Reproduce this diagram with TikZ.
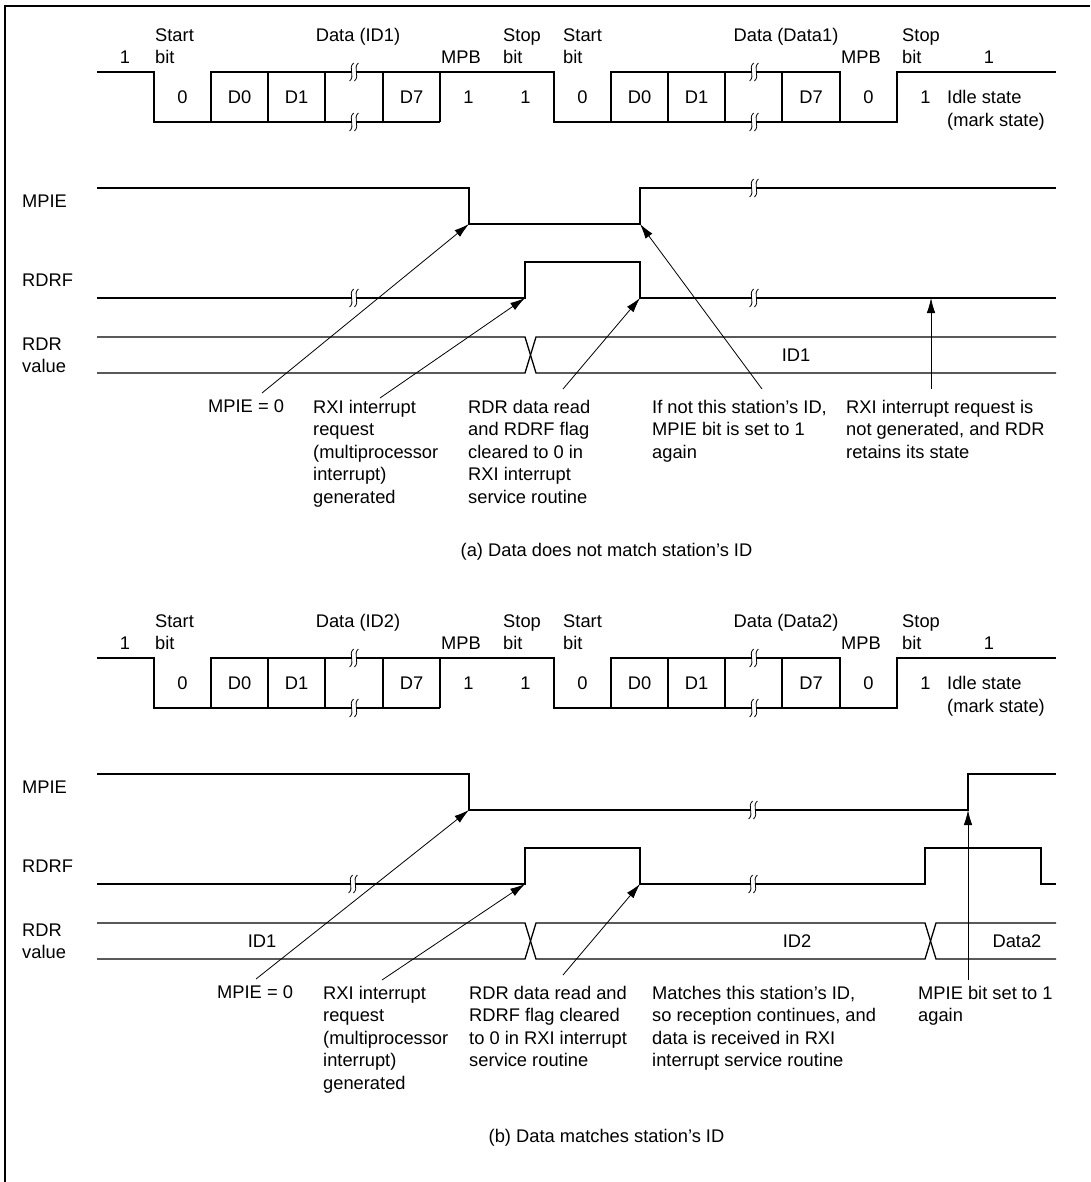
\documentclass[tikz,border=0pt]{standalone}
\usepackage{fontspec}
\setmainfont{Liberation Sans}
\usetikzlibrary{arrows.meta}
\tikzset{
  sig/.style={line width=1.3pt, line join=miter},
  arr/.style={line width=0.8pt, -{Latex[length=15pt,width=8.5pt]}},
  lbl/.style={inner sep=0pt, font=\fontsize{18.3}{22.5}\selectfont},
  blk/.style={lbl, align=left, anchor=north west},
  brk/.pic={
    \fill[white] (-2.4,-2.5) rectangle (2.4,2.5);
    \draw[line width=0.8pt] (-0.4,-9) .. controls (-6.4,-4) and (1.6,4) .. (-4.4,9);
    \draw[line width=0.8pt] (4.4,-9) .. controls (-1.6,-4) and (6.4,4) .. (0.4,9);
  }
}
\newcommand\TopWave[4]{%
\begin{scope}[yshift=-#2pt, name prefix=#1-]
  \draw[sig] (97,72) -- (154,72) -- (154,122) -- (440,122);
  \draw[sig] (211,122) -- (211,72) -- (554,72) -- (554,122) -- (897,122) -- (897,72) -- (1056,72);
  \draw[sig] (268,72) -- (268,122) (325,72) -- (325,122) (383,72) -- (383,122) (440,72) -- (440,122);
  \draw[sig] (611,122) -- (611,72) -- (840,72) -- (840,122);
  \draw[sig] (668,72) -- (668,122) (725,72) -- (725,122) (782,72) -- (782,122);
  \pic at (354,72) {brk}; \pic at (354,122) {brk};
  \pic at (754,72) {brk}; \pic at (754,122) {brk};
  % labels above
  \node[lbl, anchor=base] (idle1) at (125,63.5) {1};
  \node[lbl, anchor=base west] (start1) at (155,41.5) {Start};
  \node[lbl, anchor=base west] (start1b) at (155,63.5) {bit};
  \node[lbl, anchor=base] (data1) at (358,41.5) {#3};
  \node[lbl, anchor=base west] (mpb1) at (441,63.5) {MPB};
  \node[lbl, anchor=base west] (stop1) at (503,41.5) {Stop};
  \node[lbl, anchor=base west] (stop1b) at (503,63.5) {bit};
  \node[lbl, anchor=base west] (start2) at (563,41.5) {Start};
  \node[lbl, anchor=base west] (start2b) at (563,63.5) {bit};
  \node[lbl, anchor=base] (data2) at (786,41.5) {#4};
  \node[lbl, anchor=base west] (mpb2) at (841,63.5) {MPB};
  \node[lbl, anchor=base west] (stop2) at (902,41.5) {Stop};
  \node[lbl, anchor=base west] (stop2b) at (902,63.5) {bit};
  \node[lbl, anchor=base] (idle2) at (989,63.5) {1};
  % bit values
  \node[lbl, anchor=base] (v1) at (182.5,103.5) {0};
  \node[lbl, anchor=base] (v2) at (239.5,103.5) {D0};
  \node[lbl, anchor=base] (v3) at (296.5,103.5) {D1};
  \node[lbl, anchor=base] (v4) at (411.5,103.5) {D7};
  \node[lbl, anchor=base] (v5) at (468.5,103.5) {1};
  \node[lbl, anchor=base] (v6) at (525.5,103.5) {1};
  \node[lbl, anchor=base] (v7) at (582.5,103.5) {0};
  \node[lbl, anchor=base] (v8) at (639.5,103.5) {D0};
  \node[lbl, anchor=base] (v9) at (696.5,103.5) {D1};
  \node[lbl, anchor=base] (v10) at (811,103.5) {D7};
  \node[lbl, anchor=base] (v11) at (868.5,103.5) {0};
  \node[lbl, anchor=base] (v12) at (925.5,103.5) {1};
  \node[blk] (idletxt) at (947,90.3) {Idle state\\(mark state)};
\end{scope}}
\begin{document}
\begin{tikzpicture}[x=1pt, y=-1pt]
\useasboundingbox (0,0) rectangle (1090,1182);
\fill[white] (0,0) rectangle (1090,1182);
\draw[line width=2pt] (5,1182) -- (5,6) -- (1090,6);

% ================= panel (a) =================
\TopWave{a}{0}{Data (ID1)}{Data (Data1)}
\node[lbl, anchor=base west] (a-mpie) at (22,207.5) {MPIE};
\node[lbl, anchor=base west] (a-rdrf) at (22,286.5) {RDRF};
\node[blk] (a-rdr) at (22,337.3) {RDR\\value};
\draw[sig] (97,188) -- (469,188) -- (469,224) -- (640,224) -- (640,188) -- (1056,188);
\draw[sig] (97,298) -- (525,298) -- (525,262) -- (640,262) -- (640,298) -- (1056,298);
\draw[sig] (97,337) -- (525,337) -- (536,373) -- (1056,373);
\draw[sig] (97,373) -- (525,373) -- (536,337) -- (1056,337);
\pic at (754,188) {brk};
\pic at (354,298) {brk}; \pic at (754,298) {brk};
\node[lbl, anchor=base] (a-id1) at (796,361.5) {ID1};

\coordinate (a-mpieFall) at (469,224);
\coordinate (a-rdrfRise) at (525,298);
\coordinate (a-rdrfFall) at (640,298);
\coordinate (a-mpieRise) at (640,224);
\coordinate (a-rdrfIdle) at (931,298);
\coordinate (a-s1) at (262,393);
\coordinate (a-s2) at (380,398);
\coordinate (a-s3) at (563,389);
\coordinate (a-s4) at (762,389);
\coordinate (a-s5) at (931,389);
\draw[arr] (a-s1) -- (a-mpieFall);
\draw[arr] (a-s2) -- (a-rdrfRise);
\draw[arr] (a-s3) -- (a-rdrfFall);
\draw[arr] (a-s4) -- (a-mpieRise);
\draw[arr] (a-s5) -- (a-rdrfIdle);

\node[blk] (a-t1) at (208,400) {MPIE = 0};
\node[blk] (a-t2) at (313,400) {RXI interrupt\\request\\(multiprocessor\\interrupt)\\generated};
\node[blk] (a-t3) at (468,400) {RDR data read\\and RDRF flag\\cleared to 0 in\\RXI interrupt\\service routine};
\node[blk] (a-t4) at (652,400) {If not this station’s ID,\\MPIE bit is set to 1\\again};
\node[blk] (a-t5) at (846,400) {RXI interrupt request is\\not generated, and RDR\\retains its state};
\node[lbl, anchor=base] (a-cap) at (606.5,556.5) {(a) Data does not match station’s ID};

% ================= panel (b) =================
\TopWave{b}{586}{Data (ID2)}{Data (Data2)}
\node[lbl, anchor=base west] (b-mpie) at (22,793.5) {MPIE};
\node[lbl, anchor=base west] (b-rdrf) at (22,872.5) {RDRF};
\node[blk] (b-rdr) at (22,923.3) {RDR\\value};
\draw[sig] (97,774) -- (469,774) -- (469,810) -- (968,810) -- (968,774) -- (1056,774);
\draw[sig] (97,884) -- (525,884) -- (525,848) -- (640,848) -- (640,884) -- (925,884) -- (925,848) -- (1041,848) -- (1041,884) -- (1056,884);
\draw[sig] (97,923) -- (525,923) -- (536,959) -- (925,959) -- (936,923) -- (1056,923);
\draw[sig] (97,959) -- (525,959) -- (536,923) -- (925,923) -- (936,959) -- (1056,959);
\pic at (753,810) {brk};
\pic at (353,884) {brk}; \pic at (753,884) {brk};
\node[lbl, anchor=base] (b-id1) at (262,947.5) {ID1};
\node[lbl, anchor=base] (b-id2) at (797,947.5) {ID2};
\node[lbl, anchor=base] (b-data2) at (1017,947.5) {Data2};

\coordinate (b-mpieFall) at (469,810);
\coordinate (b-rdrfRise) at (525,884);
\coordinate (b-rdrfFall) at (640,884);
\coordinate (b-mpieRise) at (968,810);
\coordinate (b-s1) at (256,979);
\coordinate (b-s2) at (382,980);
\coordinate (b-s3) at (563,975);
\coordinate (b-s4) at (968,980);
\draw[arr] (b-s1) -- (b-mpieFall);
\draw[arr] (b-s2) -- (b-rdrfRise);
\draw[arr] (b-s3) -- (b-rdrfFall);
\draw[arr] (b-s4) -- (b-mpieRise);

\node[blk] (b-t1) at (217,986) {MPIE = 0};
\node[blk] (b-t2) at (323,986) {RXI interrupt\\request\\(multiprocessor\\interrupt)\\generated};
\node[blk] (b-t3) at (469,986) {RDR data read and\\RDRF flag cleared\\to 0 in RXI interrupt\\service routine};
\node[blk] (b-t4) at (652,986) {Matches this station’s ID,\\so reception continues, and\\data is received in RXI\\interrupt service routine};
\node[blk] (b-t5) at (918,986) {MPIE bit set to 1\\again};
\node[lbl, anchor=base] (b-cap) at (606.5,1142.5) {(b) Data matches station’s ID};
\end{tikzpicture}
\end{document}
